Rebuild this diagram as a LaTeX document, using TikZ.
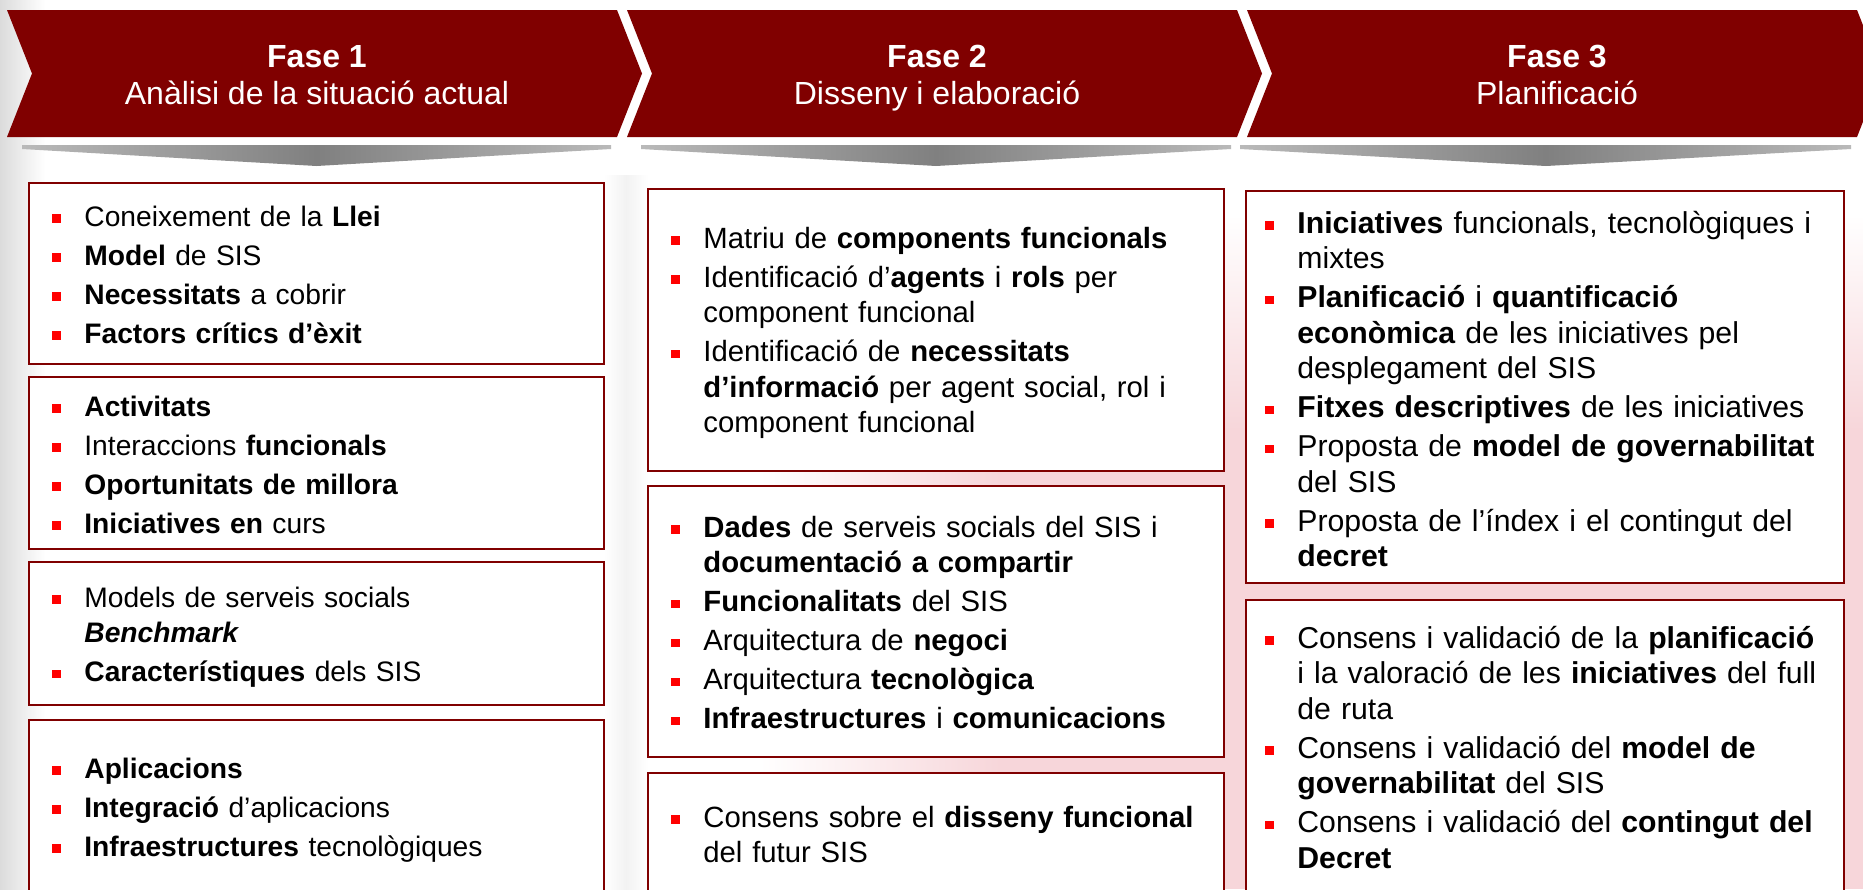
\documentclass[tikz,border=0pt]{standalone}
\usepackage{fontspec}
\setmainfont{Liberation Sans}

\definecolor{chevred}{RGB}{128,0,0}
\definecolor{bulred}{RGB}{255,0,0}
\definecolor{barg}{RGB}{128,128,128}
\definecolor{wmpink}{RGB}{247,214,218}

\newcommand{\itm}[1]{\hangindent=16pt\hangafter=1\noindent\makebox[16pt][l]{\raisebox{1.7pt}{\textcolor{bulred}{\rule{4.4pt}{4.2pt}}}}#1\par}

\begin{document}
\begin{tikzpicture}[
	x=0.5pt, y=-0.5pt,
	chev/.style={ fill=chevred },
	bar/.style={ left color=barg!55, right color=barg!55, middle color=barg },
	box/.style={ rectangle, draw=chevred, line width=1.3pt, fill=white, inner sep=0pt },
	lst/.style={ anchor=base west, inner sep=0pt, text width=310pt, align=left, font=\fontsize{#1}{17.75pt}\selectfont, execute at begin node={\setlength{\parskip}{1.75pt}} },
	lst/.default=14.65pt,
	phase/.style={ anchor=base, text=white, inner sep=0pt, font=\fontsize{16pt}{19pt}\selectfont\bfseries },
	phasesub/.style={ anchor=base, text=white, inner sep=0pt, font=\fontsize{16pt}{19pt}\selectfont }
]

\useasboundingbox (0,0) rectangle (1863,889);
\clip (0,0) rectangle (1863,889);
\fill[white] (0,0) rectangle (1863,889);
\shade[left color=gray!28, right color=white] (0,0) rectangle (45,889);
\shade[left color=white, right color=white, middle color=gray!10] (604,175) rectangle (648,889);
\shade[top color=white, bottom color=wmpink] (1000,215) rectangle (1863,430);
\fill[wmpink] (1000,430) rectangle (1863,889);
\shade[left color=white, right color=wmpink] (760,430) rectangle (1000,889);

\fill[chev] (7,10) -- (617,10) -- (642,73.5) -- (617,137) -- (7,137) -- (32,73.5) -- cycle;
\fill[chev] (627,10) -- (1237,10) -- (1262,73.5) -- (1237,137) -- (627,137) -- (652,73.5) -- cycle;
\fill[chev] (1247,10) -- (1857,10) -- (1882,73.5) -- (1857,137) -- (1247,137) -- (1272,73.5) -- cycle;

\node at (317,67) (f1) [phase] {Fase 1};
\node at (317,104) (s1) [phasesub] {Anàlisi de la situació actual};
\node at (937,67) (f2) [phase] {Fase 2};
\node at (937,104) (s2) [phasesub] {Disseny i elaboració};
\node at (1557,67) (f3) [phase] {Fase 3};
\node at (1557,104) (s3) [phasesub] {Planificació};

\shade[bar] (22,145) -- (611,145) -- (611,149) -- (316.5,166) -- (22,149) -- cycle;
\shade[bar] (641,145) -- (1231,145) -- (1231,149) -- (936,166) -- (641,149) -- cycle;
\shade[bar] (1240,145) -- (1851,145) -- (1851,149) -- (1546,166) -- (1240,149) -- cycle;

\node at (316.5,273.5) (a1) [box,minimum width=287.5pt,minimum height=90.5pt] {};
\node at (316.5,463) (a2) [box,minimum width=287.5pt,minimum height=86pt] {};
\node at (316.5,633.5) (a3) [box,minimum width=287.5pt,minimum height=71.5pt] {};
\node at (316.5,808) (a4) [box,minimum width=287.5pt,minimum height=88pt] {};

\node at (52,226) (la1) [lst=14.1pt] {\itm{Coneixement de la \textbf{Llei}}\itm{\textbf{Model} de SIS}\itm{\textbf{Necessitats} a cobrir}\itm{\textbf{Factors crítics d’èxit}}};
\node at (52,416) (la2) [lst=14.1pt] {\itm{\textbf{Activitats}}\itm{Interaccions \textbf{funcionals}}\itm{\textbf{Oportunitats de millora}}\itm{\textbf{Iniciatives en} curs}};
\node at (52,607) (la3) [lst=14.1pt] {\itm{Models de serveis socials\newline\textbf{\textit{Benchmark}}}\itm{\textbf{Característiques} dels SIS}};
\node at (52,778) (la4) [lst=14.1pt] {\itm{\textbf{Aplicacions}}\itm{\textbf{Integració} d’aplicacions}\itm{\textbf{Infraestructures} tecnològiques}};

\node at (936,330) (b1) [box,minimum width=288pt,minimum height=141pt] {};
\node at (936,621.5) (b2) [box,minimum width=288pt,minimum height=135.5pt] {};
\node at (936,834.5) (b3) [box,minimum width=288pt,minimum height=61.5pt] {};

\node at (671,248) (lb1) [lst] {\itm{Matriu de \textbf{components funcionals}}\itm{Identificació d’\textbf{agents} i \textbf{rols} per\newline component funcional}\itm{Identificació de \textbf{necessitats}\newline\textbf{d’informació} per agent social, rol i\newline component funcional}};
\node at (671,537) (lb2) [lst] {\itm{\textbf{Dades} de serveis socials del SIS i\newline\textbf{documentació a compartir}}\itm{\textbf{Funcionalitats} del SIS}\itm{Arquitectura de \textbf{negoci}}\itm{Arquitectura \textbf{tecnològica}}\itm{\textbf{Infraestructures} i \textbf{comunicacions}}};
\node at (671,827) (lb3) [lst] {\itm{Consens sobre el \textbf{disseny funcional}\newline del futur SIS}};

\node at (1545,387) (c1) [box,minimum width=299pt,minimum height=196pt] {};
\node at (1545,748) (c2) [box,minimum width=299pt,minimum height=148pt] {};

\node at (1265,233) (lc1) [lst=15.1pt] {\itm{\textbf{Iniciatives} funcionals, tecnològiques i\newline mixtes}\itm{\textbf{Planificació} i \textbf{quantificació}\newline\textbf{econòmica} de les iniciatives pel\newline desplegament del SIS}\itm{\textbf{Fitxes descriptives} de les iniciatives}\itm{Proposta de \textbf{model de governabilitat}\newline del SIS}\itm{Proposta de l’índex i el contingut del\newline\textbf{decret}}};
\node at (1265,648) (lc2) [lst=15.1pt] {\itm{Consens i validació de la \textbf{planificació}\newline i la valoració de les \textbf{iniciatives} del full\newline de ruta}\itm{Consens i validació del \textbf{model de}\newline\textbf{governabilitat} del SIS}\itm{Consens i validació del \textbf{contingut del}\newline\textbf{Decret}}};

\end{tikzpicture}
\end{document}
